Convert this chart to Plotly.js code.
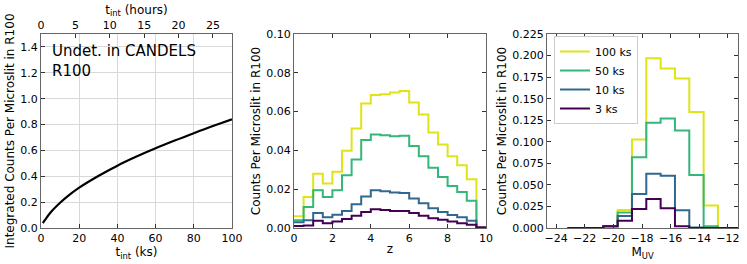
<!DOCTYPE html>
<html>
<head>
<meta charset="utf-8">
<script src="https://cdn.plot.ly/plotly-3.0.1.min.js"></script>
<style>html,body{margin:0;padding:0;background:#fff;}#chart{width:747px;height:264px;}</style>
</head>
<body>
<div id="chart"></div>
<script>
// ---- Panel 1: integrated counts vs integration time ----
const tIntKs = [1, 2, 5, 10, 15, 20, 30, 40, 50, 60, 70, 80, 90, 100];
const integratedCounts = [0.038, 0.06, 0.12, 0.195, 0.258, 0.312, 0.402, 0.482, 0.552, 0.616, 0.676, 0.733, 0.788, 0.84];

// ---- Panel 2: counts vs redshift (bin edges, width 0.5) ----
const zEdges = [0,0.5,1,1.5,2,2.5,3,3.5,4,4.5,5,5.5,6,6.5,7,7.5,8,8.5,9,9.5,10];
const zCounts100 = [0.006,0.016,0.028,0.023,0.029,0.0398,0.0513,0.0642,0.0685,0.069,0.0699,0.0706,0.0647,0.0585,0.0492,0.043,0.037,0.0324,0.0251,0.0];
const zCounts50  = [0.004,0.0108,0.0195,0.016,0.0195,0.0272,0.0353,0.0453,0.0482,0.0478,0.0473,0.0475,0.0423,0.037,0.031,0.0263,0.0217,0.0186,0.014,0.0];
const zCounts10  = [0.003,0.004,0.0077,0.0055,0.0068,0.0088,0.0122,0.0163,0.0195,0.019,0.0183,0.018,0.0152,0.0127,0.0102,0.0083,0.0067,0.0055,0.0038,0.0];
const zCounts3   = [0.001,0.0013,0.0037,0.0025,0.0033,0.0047,0.0063,0.0083,0.0097,0.0093,0.0088,0.0088,0.0077,0.0063,0.005,0.0042,0.0033,0.0025,0.0017,0.0004];

// ---- Panel 3: counts vs M_UV (bin centres, drawn as mid steps) ----
const muvCentres = [-23.2,-22.2,-21.2,-20.2,-19.2,-18.2,-17.2,-16.2,-15.2,-14.2,-13.2,-12.2,-11.2,-10.2];
const muvCounts100 = [0,0,0,0.002,0.021,0.1025,0.197,0.185,0.1735,0.1345,0.026,0,0,0];
const muvCounts50  = [0,0,0,0.002,0.018,0.082,0.122,0.127,0.113,0.0615,0.002,0,0,0];
const muvCounts10  = [0,0,0,0.002,0.014,0.0395,0.063,0.0605,0.0205,0.0005,0,0,0,0];
const muvCounts3   = [0,0,0,0.002,0.0085,0.022,0.0335,0.023,0.002,0,0,0,0,0];

const seriesNames = ['100 ks','50 ks','10 ks','3 ks'];
const seriesColors = ['#dfe318','#35b779','#31688e','#440154'];

const hoursTicks = [0,5,10,15,20,25];

function withLast(arr){ return arr.concat([arr[arr.length-1]]); }

const W = 747, H = 264;
const yDom = [(H-228)/H, (H-34)/H];
const d1 = [41/W, 232/W], d2 = [294/W, 486/W], d3 = [547/W, 738/W];

const font = {family: 'DejaVu Sans, sans-serif', size: 11, color: '#000'};
const titleFont = {family: 'DejaVu Sans, sans-serif', size: 12, color: '#000'};
const spine = '#666';

const traces = [];
traces.push({x: tIntKs, y: integratedCounts, type: 'scatter', mode: 'lines',
  line: {color: '#000', width: 2.2, shape: 'spline'}, xaxis: 'x', yaxis: 'y', showlegend: false});
// invisible trace to anchor hours axis
traces.push({x: [0, 100/3.6], y: [0, 0], type: 'scatter', mode: 'lines', line: {width: 0}, opacity: 0,
  xaxis: 'x4', yaxis: 'y', showlegend: false, hoverinfo: 'skip'});

const zSets = [zCounts100, zCounts50, zCounts10, zCounts3];
zSets.forEach((s, i) => {
  traces.push({x: zEdges, y: withLast(s), type: 'scatter', mode: 'lines',
    line: {color: seriesColors[i], width: 2, shape: 'hv'}, xaxis: 'x2', yaxis: 'y2', showlegend: false});
});
const mSets = [muvCounts100, muvCounts50, muvCounts10, muvCounts3];
mSets.forEach((s, i) => {
  traces.push({x: muvCentres, y: s, type: 'scatter', mode: 'lines', name: seriesNames[i],
    line: {color: seriesColors[i], width: 2, shape: 'hvh'}, xaxis: 'x3', yaxis: 'y3', showlegend: true});
});

const axBase = {showline: true, linecolor: spine, linewidth: 1, ticks: 'inside', ticklen: 4,
  tickcolor: '#333', tickfont: font, zeroline: false, showgrid: false};

const layout = {
  width: W, height: H, margin: {l: 0, r: 0, t: 0, b: 0},
  paper_bgcolor: '#fff', plot_bgcolor: '#fff', font: font,
  xaxis: Object.assign({}, axBase, {domain: d1, range: [0, 100], tickvals: [0,20,40,60,80,100],
    showgrid: true, gridcolor: '#d9d9d9', anchor: 'y', mirror: true,
    title: {text: 't<sub>int</sub> (ks)', font: titleFont, standoff: 0}}),
  yaxis: Object.assign({}, axBase, {domain: yDom, range: [0, 1.5], tickvals: [0,0.2,0.4,0.6,0.8,1.0,1.2,1.4],
    ticktext: ['0.0','0.2','0.4','0.6','0.8','1.0','1.2','1.4'],
    showgrid: true, gridcolor: '#d9d9d9', anchor: 'x', mirror: true,
    title: {text: 'Integrated Counts Per Microslit in R100', font: titleFont, standoff: 3}}),
  xaxis4: Object.assign({}, axBase, {domain: d1, range: [0, 100/3.6], tickvals: hoursTicks,
    overlaying: 'x', side: 'top', anchor: 'y',
    title: {text: 't<sub>int</sub> (hours)', font: titleFont, standoff: 1}}),
  xaxis2: Object.assign({}, axBase, {domain: d2, range: [0, 10], tickvals: [0,2,4,6,8,10], anchor: 'y2', mirror: 'ticks',
    title: {text: 'z', font: titleFont, standoff: 0}}),
  yaxis2: Object.assign({}, axBase, {domain: yDom, range: [0, 0.1], tickvals: [0,0.02,0.04,0.06,0.08,0.10],
    ticktext: ['0.00','0.02','0.04','0.06','0.08','0.10'], anchor: 'x2', mirror: 'ticks',
    title: {text: 'Counts Per Microslit in R100', font: titleFont, standoff: 3}}),
  xaxis3: Object.assign({}, axBase, {domain: d3, range: [-24.63, -11.3], tickvals: [-24,-22,-20,-18,-16,-14,-12],
    ticktext: ['\u221224','\u221222','\u221220','\u221218','\u221216','\u221214','\u221212'], anchor: 'y3', mirror: 'ticks',
    title: {text: 'M<sub>UV</sub>', font: titleFont, standoff: 0}}),
  yaxis3: Object.assign({}, axBase, {domain: yDom, range: [0, 0.225],
    tickvals: [0,0.025,0.05,0.075,0.1,0.125,0.15,0.175,0.2,0.225],
    ticktext: ['0.000','0.025','0.050','0.075','0.100','0.125','0.150','0.175','0.200','0.225'], anchor: 'x3', mirror: 'ticks',
    title: {text: 'Counts Per Microslit in R100', font: titleFont, standoff: 3}}),
  legend: {x: 554/W, xanchor: 'left', y: (H-36)/H, yanchor: 'top', bgcolor: 'rgba(255,255,255,0.9)',
    bordercolor: '#ccc', borderwidth: 1, font: font, tracegroupgap: 0, itemwidth: 30},
  annotations: [{text: 'Undet. in CANDELS<br>R100', xref: 'paper', yref: 'paper', x: 50/W, y: (H-40)/H,
    xanchor: 'left', yanchor: 'top', showarrow: false, align: 'left',
    font: {family: 'DejaVu Sans, sans-serif', size: 15, color: '#000'}}]
};

Plotly.newPlot('chart', traces, layout, {staticPlot: true, displayModeBar: false});
</script>
</body>
</html>
